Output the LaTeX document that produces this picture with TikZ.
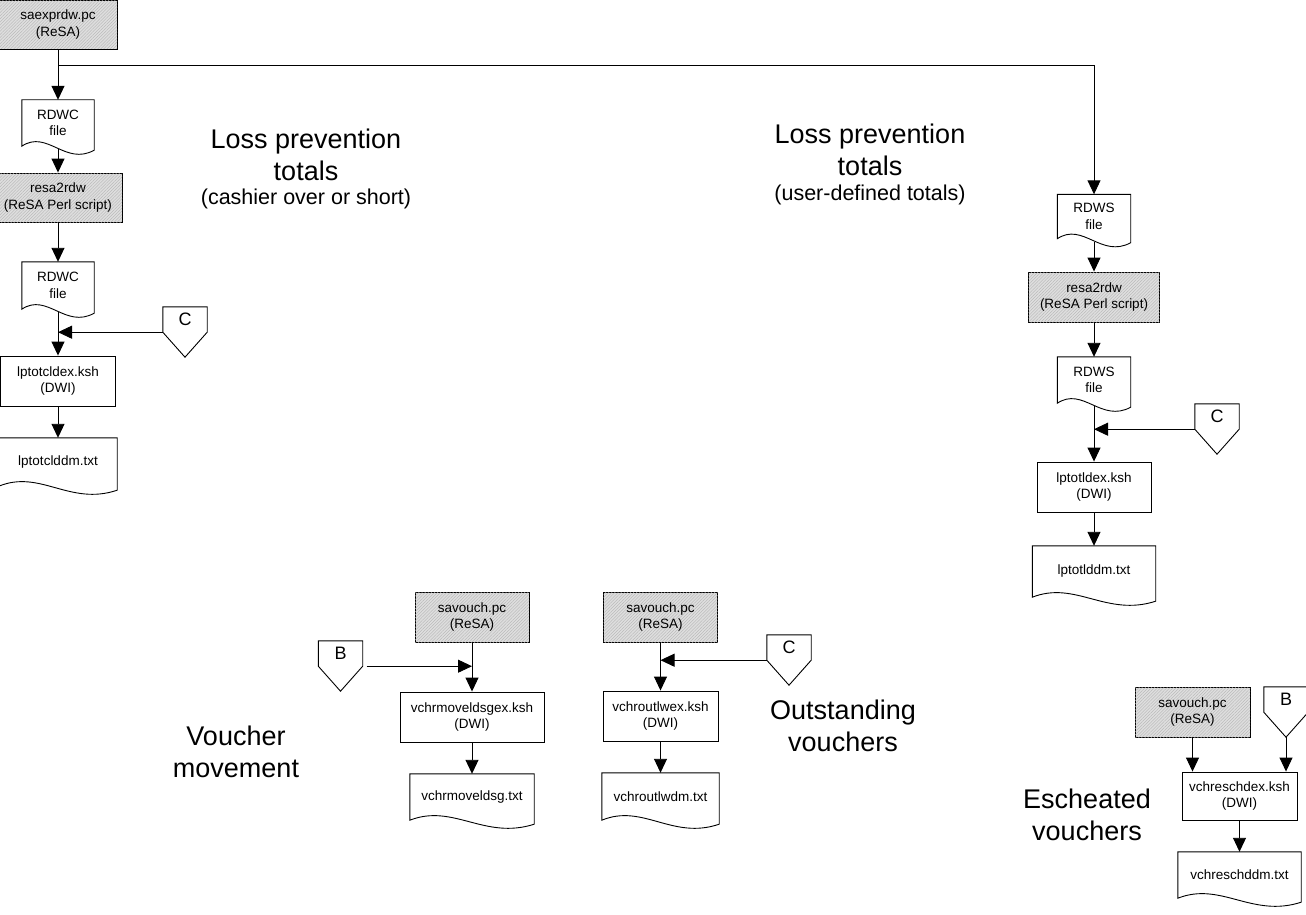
\documentclass[tikz,border=0pt]{standalone}
\usepackage{fontspec}
\setmainfont{Liberation Sans}
\usetikzlibrary{arrows.meta,calc,patterns.meta}
\newcommand{\docshp}[1]{\draw[shp] (#1.south west) -- (#1.north west) -- (#1.north east) -- ($(#1.south east)+(0,4)$) .. controls ($(#1.south west)!0.6!(#1.south east)+(0,20)$) and ($(#1.south west)!0.35!(#1.south east)+(0,-17)$) .. (#1.south west) -- cycle;}
\newcommand{\offpg}[4]{\node[opc] (#1) at (#2,#3) {#4};
  \draw[shp] (#1.north west) -- (#1.north east) -- (#1.south east) -- ($(#1.south)+(0,25)$) -- (#1.south west) -- cycle;
  \coordinate (#1tip) at ($(#1.south)+(0,25)$);}
\begin{document}
\begin{tikzpicture}[x=1pt,y=-1pt,
  every node/.style={font=\fontsize{13.5}{16.5}\selectfont, inner sep=0pt, align=center},
  shp/.style={draw=black, line width=0.9pt},
  proc/.style={shp, rectangle},
  gproc/.style={proc, fill=black!13, postaction={pattern={Lines[angle=45,distance=2.2pt,line width=0.35pt]}, pattern color=black!30}},
  docn/.style={rectangle},
  opc/.style={rectangle, font=\fontsize{18}{20}\selectfont, minimum width=44pt, minimum height=25pt},
  arr/.style={line width=0.9pt, -{Triangle[length=14pt,width=13pt]}},
  fromdoc/.style={shorten <=3pt},
  big/.style={font=\fontsize{27}{32}\selectfont},
]
\useasboundingbox (0,0) rectangle (1306,915);

% ---------- left column ----------
\node[gproc, minimum width=118pt, minimum height=49pt] (A) at (58,24.5) {saexprdw.pc\\(ReSA)};
\coordinate (br) at (58,65);
\node[docn, minimum width=72pt, minimum height=46pt] (rdwc1) at (58,123) {RDWC\\file};
\docshp{rdwc1}
\node[gproc, minimum width=128pt, minimum height=49pt] (resa1) at (58,197.5) {resa2rdw\\(ReSA Perl script)};
\node[docn, minimum width=72pt, minimum height=47pt] (rdwc2) at (58,285.5) {RDWC\\file};
\docshp{rdwc2}
\offpg{c1}{185}{319.5}{C}
\node[proc, minimum width=115pt, minimum height=50pt] (lpx1) at (58,381) {lptotcldex.ksh\\(DWI)};
\node[docn, minimum width=118pt, minimum height=48pt] (lpd1) at (58,462) {lptotclddm.txt};
\docshp{lpd1}

\draw[arr] (A.south) -- (rdwc1.north);
\draw[arr,fromdoc] (rdwc1.south) -- (resa1.north);
\draw[arr] (resa1.south) -- (rdwc2.north);
\draw[arr,fromdoc] (rdwc2.south) -- (lpx1.north);
\draw[arr] (c1.south west) -- (c1.south west -| rdwc2.south);
\draw[arr] (lpx1.south) -- (lpd1.north);

% ---------- right column ----------
\node[docn, minimum width=73pt, minimum height=44pt] (rdws1) at (1094,216.5) {RDWS\\file};
\docshp{rdws1}
\node[gproc, minimum width=131pt, minimum height=50pt] (resa2) at (1094,297) {resa2rdw\\(ReSA Perl script)};
\node[docn, minimum width=73pt, minimum height=46pt] (rdws2) at (1094,380) {RDWS\\file};
\docshp{rdws2}
\offpg{c2}{1217}{416.5}{C}
\node[proc, minimum width=114pt, minimum height=50pt] (lpx2) at (1094,487) {lptotldex.ksh\\(DWI)};
\node[docn, minimum width=123pt, minimum height=51pt] (lpd2) at (1094,571.5) {lptotlddm.txt};
\docshp{lpd2}

\draw[arr] (br) -| (rdws1.north);
\draw[arr,fromdoc] (rdws1.south) -- (resa2.north);
\draw[arr] (resa2.south) -- (rdws2.north);
\draw[arr,fromdoc] (rdws2.south) -- (lpx2.north);
\draw[arr] (c2.south west) -- (c2.south west -| rdws2.south);
\draw[arr] (lpx2.south) -- (lpd2.north);

% ---------- titles ----------
\node[big, anchor=north] (tl) at (306,129) {Loss prevention\\totals\\[-8pt]{\fontsize{21.5}{24}\selectfont(cashier over or short)}};
\node[big, anchor=north] (tr) at (870,124) {Loss prevention\\totals\\[-7pt]{\fontsize{21.5}{24}\selectfont(user-defined totals)}};

% ---------- voucher movement ----------
\node[gproc, minimum width=114pt, minimum height=50pt] (sav1) at (472,617) {savouch.pc\\(ReSA)};
\offpg{b1}{340.5}{653.5}{B}
\node[proc, minimum width=144pt, minimum height=50pt] (vmx) at (472,717) {vchrmoveldsgex.ksh\\(DWI)};
\node[docn, minimum width=124pt, minimum height=46pt] (vmd) at (472,797) {vchrmoveldsg.txt};
\docshp{vmd}
\draw[arr, shorten <=4pt] (b1.south east) -- (b1.south east -| sav1.south);
\draw[arr] (sav1.south) -- (vmx.north);
\draw[arr] (vmx.south) -- (vmd.north);
\node[big] (vml) at (236,752) {Voucher\\movement};

% ---------- outstanding vouchers ----------
\node[gproc, minimum width=114pt, minimum height=50pt] (sav2) at (660.5,617) {savouch.pc\\(ReSA)};
\offpg{c3}{789}{647.5}{C}
\node[proc, minimum width=115pt, minimum height=50pt] (vox) at (660.5,716) {vchroutlwex.ksh\\(DWI)};
\node[docn, minimum width=117pt, minimum height=47pt] (vod) at (660.5,796.5) {vchroutlwdm.txt};
\docshp{vod}
\draw[arr] (c3.south west) -- (c3.south west -| sav2.south);
\draw[arr] (sav2.south) -- (vox.north);
\draw[arr] (vox.south) -- (vod.north);
\node[big] (ovl) at (843,726) {Outstanding\\vouchers};

% ---------- escheated vouchers ----------
\node[gproc, minimum width=115pt, minimum height=50pt] (sav3) at (1192.5,712) {savouch.pc\\(ReSA)};
\offpg{b2}{1286}{699.5}{B}
\node[proc, minimum width=115pt, minimum height=48pt] (vex) at (1239.5,796) {vchreschdex.ksh\\(DWI)};
\node[docn, minimum width=123pt, minimum height=46pt] (ved) at (1239.5,875) {vchreschddm.txt};
\docshp{ved}
\draw[arr] (sav3.south) -- (sav3.south |- vex.north);
\draw[arr] (b2tip) -- (b2tip |- vex.north);
\draw[arr] (vex.south) -- (ved.north);
\node[big] (evl) at (1087,815) {Escheated\\vouchers};
\end{tikzpicture}
\end{document}
